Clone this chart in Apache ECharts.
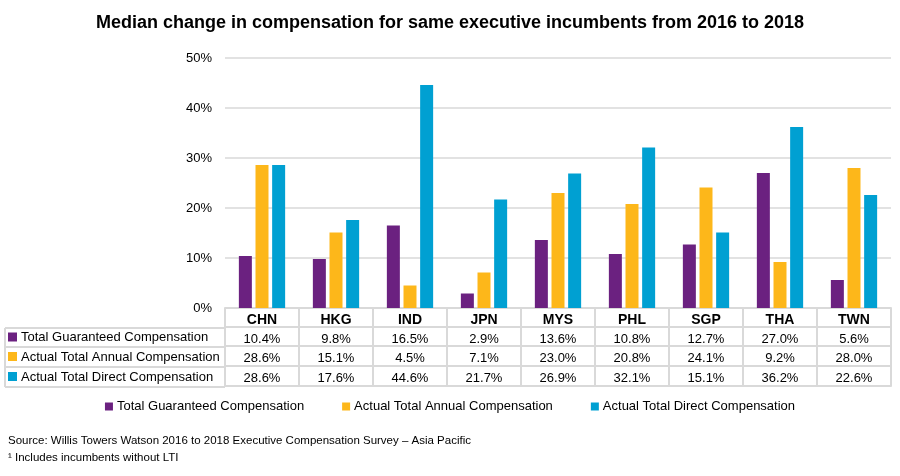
<!DOCTYPE html>
<html lang="en">
<head>
    <meta charset="UTF-8">
    <title>Executive compensation</title>
    <script src="https://cdn.jsdelivr.net/npm/echarts@6/dist/echarts.min.js"></script>
    <style>
        html, body { margin: 0; padding: 0; background: #fff; }
        #main { width: 900px; height: 476px; }
    </style>
</head>
<body>
<div id="main"></div>
<script>
    var countries = ['CHN', 'HKG', 'IND', 'JPN', 'MYS', 'PHL', 'SGP', 'THA', 'TWN'];
    var guaranteed = [10.4, 9.8, 16.5, 2.9, 13.6, 10.8, 12.7, 27.0, 5.6];
    var annual = [28.6, 15.1, 4.5, 7.1, 23.0, 20.8, 24.1, 9.2, 28.0];
    var direct = [28.6, 17.6, 44.6, 21.7, 26.9, 32.1, 15.1, 36.2, 22.6];
    var seriesNames = ['Total Guaranteed Compensation', 'Actual Total Annual Compensation', 'Actual Total Direct Compensation'];
    var colors = ['#6b2180', '#fdb71a', '#00a0d2'];

    var font = 'Liberation Sans, Arial, sans-serif';
    var border = '#d9d9d9';
    var rows = [guaranteed, annual, direct];

    // extra x axes only draw the horizontal lines of the table
    var xAxes = [{
        type: 'category',
        data: countries,
        axisLine: { lineStyle: { color: border, width: 2 } },
        axisTick: { show: true, interval: 0, length: 78, lineStyle: { color: border, width: 2 } },
        axisLabel: {
            interval: 0,
            margin: 2,
            formatter: function (v, i) {
                var s = '{h|' + v + '}';
                for (var r = 0; r < rows.length; r++) {
                    s += '\n{v|' + rows[r][i].toFixed(1) + '%}';
                }
                return s;
            },
            rich: {
                h: { fontFamily: font, fontSize: 14, fontWeight: 'bold', color: '#000', lineHeight: 19.5 },
                v: { fontFamily: font, fontSize: 13, color: '#000', lineHeight: 19.5 }
            }
        }
    }];
    [19, 38, 58, 78].forEach(function (off) {
        xAxes.push({
            type: 'category',
            data: countries,
            position: 'bottom',
            offset: off,
            axisLine: { lineStyle: { color: border, width: 2 } },
            axisTick: { show: false },
            axisLabel: { show: false }
        });
    });

    // left column of the table
    var graphics = [];
    var lineYs = [328, 347, 367, 387];
    lineYs.forEach(function (y) {
        graphics.push({ type: 'line', shape: { x1: 5, y1: y, x2: 225, y2: y }, style: { stroke: border, lineWidth: 2 } });
    });
    graphics.push({ type: 'line', shape: { x1: 5, y1: 328, x2: 5, y2: 387 }, style: { stroke: border, lineWidth: 2 } });
    seriesNames.forEach(function (name, i) {
        var cy = (lineYs[i] + lineYs[i + 1]) / 2;
        graphics.push({ type: 'rect', shape: { x: 8, y: cy - 5, width: 9, height: 9 }, style: { fill: colors[i] } });
        graphics.push({
            type: 'text', x: 21, y: cy,
            style: { text: name, font: '13px ' + font, fill: '#000', verticalAlign: 'middle' }
        });
    });
    graphics.push({
        type: 'text', x: 8, y: 441,
        style: { text: 'Source: Willis Towers Watson 2016 to 2018 Executive Compensation Survey \u2013 Asia Pacific', font: '11.5px ' + font, fill: '#000', verticalAlign: 'middle' }
    });
    graphics.push({
        type: 'text', x: 8, y: 458,
        style: { text: '\u00b9 Includes incumbents without LTI', font: '11.5px ' + font, fill: '#000', verticalAlign: 'middle' }
    });

    var option = {
        animation: false,
        title: {
            text: 'Median change in compensation for same executive incumbents from 2016 to 2018',
            left: 'center',
            top: 9,
            textStyle: { fontFamily: font, fontSize: 18, fontWeight: 'bold', color: '#000' }
        },
        legend: {
            data: seriesNames,
            left: 'center',
            top: 395,
            icon: 'rect',
            itemWidth: 8,
            itemHeight: 8,
            itemGap: 38,
            textStyle: { fontFamily: font, fontSize: 13, color: '#000', padding: [0, 0, 0, -1] }
        },
        grid: { left: 225, right: 9, top: 58, height: 250 },
        xAxis: xAxes,
        yAxis: {
            type: 'value',
            min: 0,
            max: 50,
            interval: 10,
            axisLine: { show: false },
            axisTick: { show: false },
            axisLabel: { formatter: '{value}%', margin: 13, fontFamily: font, fontSize: 13, color: '#000' },
            splitLine: { lineStyle: { color: border, width: 1.5 } }
        },
        series: seriesNames.map(function (name, i) {
            return {
                name: name,
                type: 'bar',
                data: rows[i],
                barWidth: 13,
                barGap: '28%',
                itemStyle: { color: colors[i] }
            };
        }),
        graphic: graphics
    };
    echarts.init(document.getElementById('main')).setOption(option);
</script>
</body>
</html>
